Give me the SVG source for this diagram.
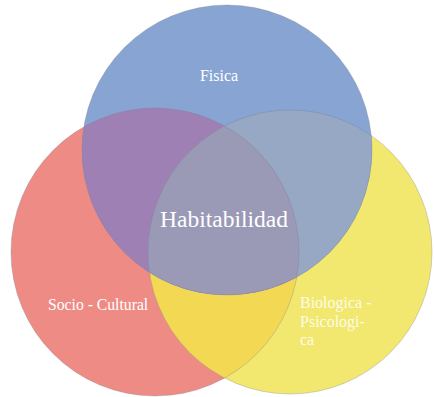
<svg xmlns="http://www.w3.org/2000/svg" width="434" height="397" viewBox="0 0 434 397">
<style>
.lbl{font-family:"Liberation Serif","Times New Roman",serif;fill:#ffffff}
.edge{fill:none;stroke:#7a7a8a;stroke-width:0.6;stroke-opacity:0.55}
</style>
<defs>
<circle id="cB" cx="227" cy="150" r="145"/>
<circle id="cR" cx="155" cy="252" r="144"/>
<circle id="cY" cx="290" cy="252" r="142"/>
<clipPath id="clipB"><use href="#cB"/></clipPath>
<clipPath id="clipR"><use href="#cR"/></clipPath>
<clipPath id="clipY"><use href="#cY"/></clipPath>
</defs>
<rect width="434" height="397" fill="#ffffff"/>
<g id="socio-cultural">
<use href="#cR" fill="#EE8B85"/>
</g>
<g id="biologica-psicologica">
<use href="#cY" fill="#F2E870"/>
<use href="#cR" fill="#F2D853" clip-path="url(#clipY)"/>
</g>
<g id="fisica">
<use href="#cB" fill="#88A4D3"/>
<use href="#cR" fill="#9E80B5" clip-path="url(#clipB)"/>
<use href="#cY" fill="#96A8C4" clip-path="url(#clipB)"/>
<g clip-path="url(#clipB)"><use href="#cR" fill="#9A99B6" clip-path="url(#clipY)"/></g>
</g>
<g id="outlines">
<use href="#cR" class="edge"/>
<use href="#cY" class="edge"/>
<use href="#cB" class="edge"/>
</g>
<g id="labels">
<text class="lbl" x="219" y="81" font-size="16" text-anchor="middle">Fisica</text>
<text class="lbl" x="224" y="227" font-size="23.5" text-anchor="middle">Habitabilidad</text>
<text class="lbl" x="48" y="310" font-size="15.7">Socio - Cultural</text>
<text class="lbl" x="300" y="308" font-size="16" fill-opacity="0.85">Biologica -</text>
<text class="lbl" x="300" y="326.5" font-size="16" fill-opacity="0.85">Psicologi-</text>
<text class="lbl" x="300" y="345" font-size="16" fill-opacity="0.85">ca</text>
</g>
</svg>
